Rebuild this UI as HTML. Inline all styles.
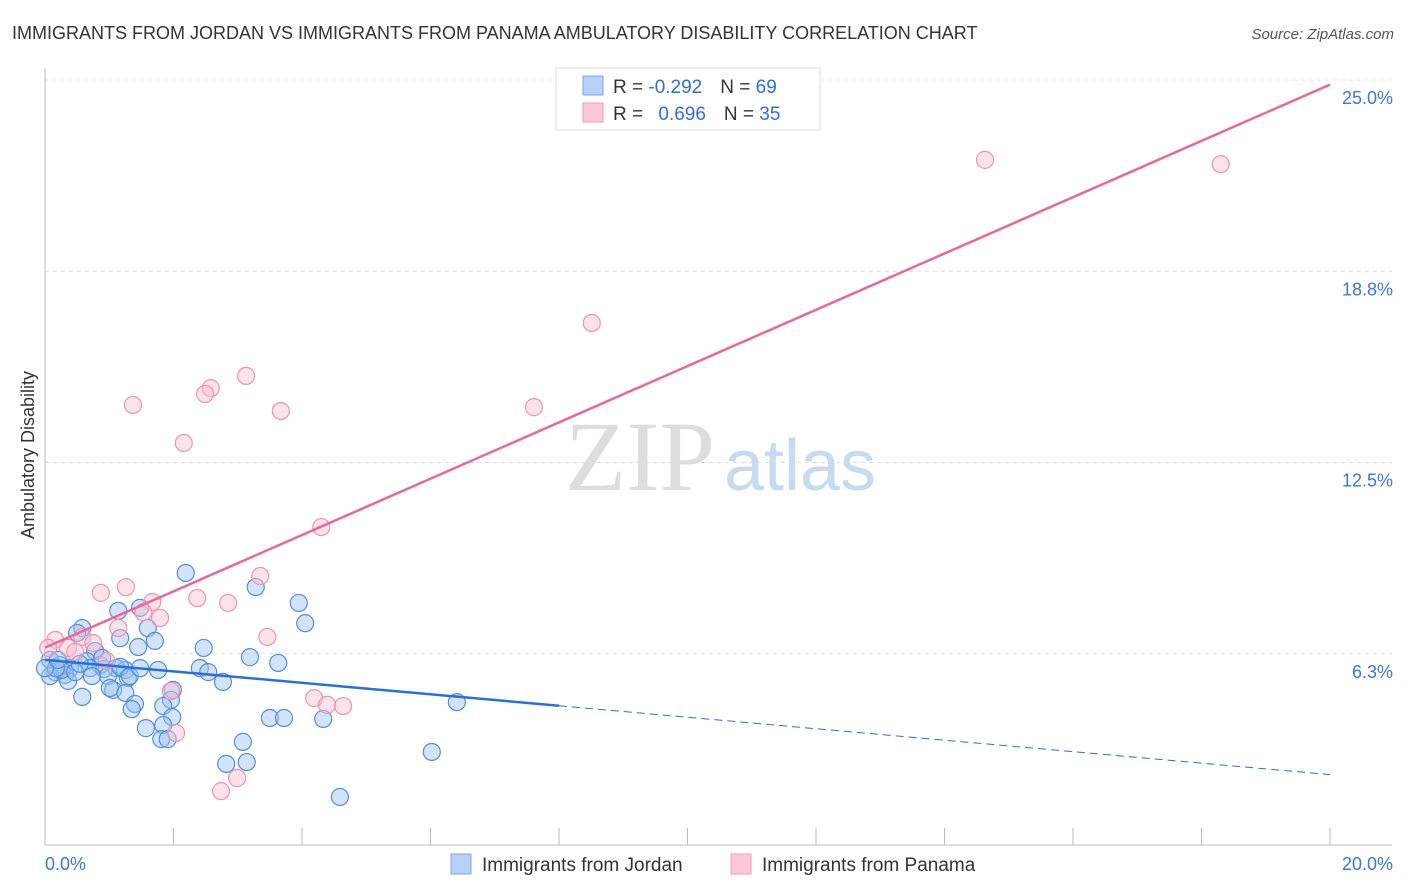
<!DOCTYPE html>
<html><head><meta charset="utf-8"><style>
body{margin:0;background:#fff;font-family:"Liberation Sans",sans-serif;}
#wrap{position:relative;width:1406px;height:892px;overflow:hidden;}
</style></head><body>
<div id="wrap">
<svg id="svg" width="1406" height="892" xmlns="http://www.w3.org/2000/svg">
<text x="12" y="39" font-size="18" fill="#333">IMMIGRANTS FROM JORDAN VS IMMIGRANTS FROM PANAMA AMBULATORY DISABILITY CORRELATION CHART</text>
<text x="1394" y="39" font-size="15" fill="#555" font-style="italic" text-anchor="end">Source: ZipAtlas.com</text>
<text x="34" y="455" font-size="18" fill="#333" text-anchor="middle" transform="rotate(-90 34 455)">Ambulatory Disability</text>
<text x="640" y="490" font-size="100" fill="#ddd" font-family="Liberation Serif,serif" text-anchor="middle">ZIP</text>
<text x="800" y="490" font-size="72" fill="#c8daf2" text-anchor="middle">atlas</text>
<g id="grid"></g><g id="pts"></g><g id="lines"></g>
<g>
<rect x="556" y="68" width="264" height="62" fill="#fff" stroke="#ddd"/>
<rect x="583" y="76" width="20" height="19" fill="#b7d0f5" stroke="#7aa6e6"/>
<rect x="583" y="103" width="20" height="19" fill="#fbc9d7" stroke="#f09ab3"/>
<text x="613" y="93" font-size="19" fill="#333">R = <tspan fill="#2d6fd8">-0.292</tspan><tspan dx="18">N = </tspan><tspan fill="#2d6fd8">69</tspan></text>
<text x="613" y="120" font-size="19" fill="#333">R = <tspan dx="10" fill="#2d6fd8">0.696</tspan><tspan dx="18">N = </tspan><tspan fill="#2d6fd8">35</tspan></text>
</g>
<g>
<rect x="451" y="854" width="20" height="20" fill="#b7d0f5" stroke="#7aa6e6"/>
<text x="482" y="871" font-size="19" fill="#333">Immigrants from Jordan</text>
<rect x="731" y="854" width="20" height="20" fill="#fbc9d7" stroke="#f09ab3"/>
<text x="762" y="871" font-size="19" fill="#333">Immigrants from Panama</text>
</g>
</svg>
</div>
<script>
const yTicks=[6.25,12.5,18.75,25];
const yTickLabels=["6.3%","12.5%","18.8%","25.0%"];
const xTickLabels=["0.0%","20.0%"];
const jordanPx=[[186,573],[256,587],[118,611],[140,608],[299,603],[305,623],[82,628],[77,633],[148,628],[120,638],[155,641],[138,647],[204,648],[95,651],[50,660],[60,665],[250,657],[278,663],[87,661],[100,665],[116,668],[125,670],[158,670],[200,668],[208,672],[70,668],[90,668],[104,669],[55,672],[65,675],[50,676],[108,676],[128,678],[223,682],[68,681],[173,690],[113,690],[125,693],[82,697],[171,700],[135,704],[132,709],[163,706],[457,702],[270,718],[284,718],[323,719],[172,717],[146,728],[163,725],[161,739],[168,739],[243,742],[226,764],[247,762],[432,752],[340,797],[110,688],[120,667],[102,658],[62,670],[56,668],[45,668],[92,676],[75,672],[130,676],[140,668],[58,660],[80,664]];
const panamaPx=[[985,160],[1221,164],[592,323],[246,376],[211,388],[205,394],[133,405],[281,411],[534,407],[184,443],[321,527],[260,576],[126,587],[101,593],[197,598],[228,603],[152,602],[160,618],[143,612],[118,628],[267,637],[82,637],[55,640],[93,643],[48,648],[68,648],[75,652],[107,661],[314,698],[327,705],[343,706],[171,691],[176,733],[237,778],[221,791]];
// convert estimated positions to data values (x %, y %)
const jordanX=jordanPx.map(p=>+((p[0]-45)/64.25).toFixed(2));
const jordanY=jordanPx.map(p=>+((845-p[1])/30.6).toFixed(2));
const panamaX=panamaPx.map(p=>+((p[0]-45)/64.25).toFixed(2));
const panamaY=panamaPx.map(p=>+((845-p[1])/30.6).toFixed(2));
const jordanTrend=[6.05,2.3]; // y at x=0 and x=20
const jordanSolidEnd=8.0;
const panamaTrend=[6.45,24.85];

const X=v=>45+v*64.25, Y=v=>845-v*30.6;
const NS="http://www.w3.org/2000/svg";
function mk(tag,attrs,parent){const e=document.createElementNS(NS,tag);for(const k in attrs)e.setAttribute(k,attrs[k]);parent.appendChild(e);return e;}
const grid=document.getElementById('grid'),svg=document.getElementById('svg');
yTicks.forEach((t,i)=>{
 const l=mk('line',{x1:45,x2:1392,y1:Y(t),y2:Y(t),stroke:'#ddd','stroke-dasharray':'4,4'},grid);
 
 
 const tx=mk('text',{x:1393,y:Y(t)+24,'font-size':18,fill:'#3a78d8','text-anchor':'end'},grid);
 tx.textContent=yTickLabels[i];
 
 
});
const ax=mk('line',{x1:45,x2:45,y1:68,y2:845,stroke:'#bbb'},grid);


const bx=mk('line',{x1:45,x2:1392,y1:845,y2:845,stroke:'#bbb'},grid);


for(let i=1;i<=10;i++){const t=mk('line',{x1:X(i*2),x2:X(i*2),y1:828,y2:845,stroke:'#bbb'},grid);
 
 }
[[0,45,'start'],[20,1393,'end']].forEach((d,i)=>{const t=mk('text',{x:d[1],y:870,'font-size':18,fill:'#3a78d8','text-anchor':d[2]},grid);t.textContent=xTickLabels[i];
 
 });
const pts=document.getElementById('pts');
jordanX.forEach((x,i)=>{const c=mk('circle',{cx:X(x),cy:Y(jordanY[i]),r:8.5,fill:'rgba(160,195,240,0.45)',stroke:'#4f8ee0','stroke-width':1.2},pts);
 
 });
panamaX.forEach((x,i)=>{const c=mk('circle',{cx:X(x),cy:Y(panamaY[i]),r:8.5,fill:'rgba(248,190,208,0.45)',stroke:'#ee93ae','stroke-width':1.2},pts);
 
 });
const lines=document.getElementById('lines');
const jy=x=>jordanTrend[0]+(jordanTrend[1]-jordanTrend[0])*x/20;
const l1=mk('line',{x1:X(0),y1:Y(jy(0)),x2:X(jordanSolidEnd),y2:Y(jy(jordanSolidEnd)),stroke:'#2a6fd6','stroke-width':2.5},lines);


const l2=mk('line',{x1:X(jordanSolidEnd),y1:Y(jy(jordanSolidEnd)),x2:X(20),y2:Y(jy(20)),stroke:'#2a6fd6','stroke-width':1,'stroke-dasharray':'8,5'},lines);


const l3=mk('line',{x1:X(0),y1:Y(panamaTrend[0]),x2:X(20),y2:Y(panamaTrend[1]),stroke:'#e8689a','stroke-width':2.5},lines);


</script>
</body></html>
